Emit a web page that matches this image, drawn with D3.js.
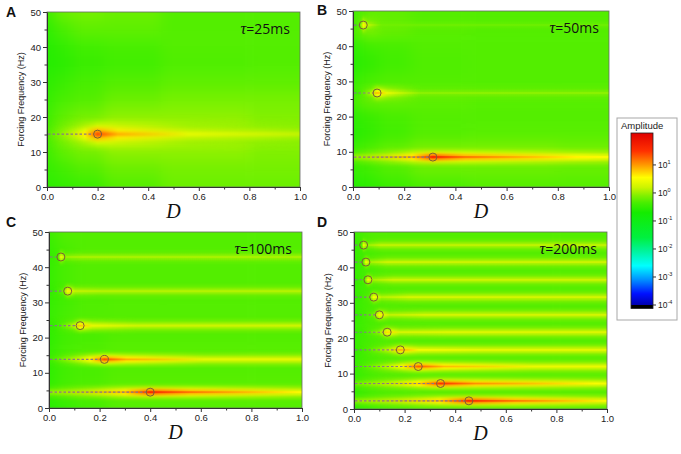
<!DOCTYPE html>
<html>
<head>
<meta charset="utf-8">
<script src="https://cdn.jsdelivr.net/npm/d3@7"></script>
<style>
  body { margin: 0; background: #fff; }
  svg { font-family: Arial, "Liberation Sans", sans-serif; }
</style>
</head>
<body>
<svg id="fig" width="681" height="454"></svg>
<script>
(function() {
  // ---- data ----
  var panelLetters = ['A', 'B', 'C', 'D']
  var tauLabels = ['25ms', '50ms', '100ms', '200ms']
  var dTicks = [0, 0.2, 0.4, 0.6, 0.8, 1.0]
  var dMinor = [0.1, 0.3, 0.5, 0.7, 0.9]
  var fTicks = [0, 10, 20, 30, 40, 50]
  var fMinor = [5, 15, 25, 35, 45]
  var ampTicks = [1, 0, -1, -2, -3, -4]   // log10 amplitude labelled on the colour bar

  // colour map, log10(amplitude) -> colour
  var levelStops = [2.2, 1.5, 1.0, 0.55, 0.2, -0.1, -0.35, -0.7, -1.6, -2.1, -2.6, -3.1, -3.6, -4.0]
  var levelColors = ['#e00000', '#ff3000', '#ff9900', '#ffff00', '#ccf400', '#80f000', '#48ee00',
                     '#14ec00', '#00f040', '#00f4a0', '#00ffff', '#0090ff', '#0010ff', '#0000b0']

  // resonance peaks (circles): forcing frequency (Hz), D at circle, log10 amplitude at peak and at D=1
  var peakFreqA = [15.1]
  var peakDA = [0.20]
  var peakLevelA = [1.35]
  var tailLevelA = [0.15]

  var peakFreqB = [46.0, 26.7, 8.5]
  var peakDB = [0.04, 0.094, 0.312]
  var peakLevelB = [0.6, 0.8, 1.6]
  var tailLevelB = [-0.15, -0.05, 0.5]

  var peakFreqC = [42.9, 33.2, 23.4, 13.8, 4.5]
  var peakDC = [0.047, 0.074, 0.123, 0.219, 0.40]
  var peakLevelC = [0.45, 0.6, 0.8, 1.35, 1.6]
  var tailLevelC = [0.05, 0.1, 0.2, 0.35, 0.5]

  var peakFreqD = [46.3, 41.5, 36.5, 31.6, 26.6, 21.7, 16.7, 12.0, 7.2, 2.3]
  var peakDD = [0.038, 0.047, 0.055, 0.078, 0.100, 0.131, 0.183, 0.254, 0.342, 0.454]
  var peakLevelD = [0.45, 0.5, 0.5, 0.55, 0.6, 0.7, 0.9, 1.3, 1.5, 1.6]
  var tailLevelD = [0.15, 0.2, 0.2, 0.25, 0.25, 0.3, 0.35, 0.4, 0.45, 0.5]

  // coarse background field, log10 amplitude; rows = bgFreq, columns = bgD
  var bgFreq = [50, 45, 40, 35, 30, 25, 20, 15, 10, 5, 0]
  var bgD = [0, 0.05, 0.15, 0.3, 0.6, 1.0]
  var bgA = [
    [-0.45, -0.2, -0.15, -0.2, -0.3, -0.3],
    [-0.55, -0.35, -0.25, -0.25, -0.3, -0.3],
    [-0.6, -0.5, -0.4, -0.35, -0.3, -0.3],
    [-0.6, -0.55, -0.45, -0.4, -0.32, -0.3],
    [-0.55, -0.45, -0.35, -0.3, -0.25, -0.25],
    [-0.5, -0.35, -0.3, -0.2, -0.15, -0.15],
    [-0.45, -0.25, -0.15, -0.05, -0.05, -0.1],
    [-0.4, -0.15, -0.05, 0.15, 0.1, 0.0],
    [-0.45, -0.25, -0.15, -0.05, -0.05, -0.1],
    [-0.5, -0.4, -0.3, -0.2, -0.15, -0.15],
    [-0.55, -0.5, -0.45, -0.3, -0.2, -0.2]
  ]
  var bgB = [
    [-0.45, -0.25, -0.25, -0.3, -0.3, -0.3],
    [-0.35, -0.1, -0.2, -0.28, -0.3, -0.3],
    [-0.55, -0.4, -0.35, -0.3, -0.3, -0.3],
    [-0.6, -0.5, -0.4, -0.32, -0.3, -0.3],
    [-0.5, -0.35, -0.3, -0.3, -0.3, -0.3],
    [-0.4, -0.2, -0.2, -0.25, -0.28, -0.28],
    [-0.55, -0.45, -0.35, -0.3, -0.3, -0.3],
    [-0.6, -0.5, -0.4, -0.3, -0.28, -0.28],
    [-0.45, -0.3, -0.2, -0.1, -0.1, -0.15],
    [-0.5, -0.4, -0.3, -0.2, -0.2, -0.22],
    [-0.6, -0.55, -0.45, -0.35, -0.3, -0.3]
  ]
  var bgC = [
    [-0.45, -0.3, -0.3, -0.3, -0.3, -0.3],
    [-0.5, -0.35, -0.3, -0.3, -0.3, -0.3],
    [-0.5, -0.35, -0.3, -0.3, -0.3, -0.3],
    [-0.5, -0.35, -0.3, -0.3, -0.3, -0.3],
    [-0.5, -0.4, -0.32, -0.3, -0.3, -0.3],
    [-0.5, -0.35, -0.3, -0.3, -0.3, -0.3],
    [-0.55, -0.4, -0.35, -0.3, -0.3, -0.3],
    [-0.5, -0.35, -0.3, -0.28, -0.28, -0.28],
    [-0.55, -0.4, -0.35, -0.3, -0.3, -0.3],
    [-0.5, -0.35, -0.3, -0.25, -0.25, -0.25],
    [-0.6, -0.5, -0.4, -0.3, -0.3, -0.3]
  ]
  var bgDD = [
    [-0.45, -0.3, -0.3, -0.3, -0.3, -0.3],
    [-0.5, -0.35, -0.3, -0.3, -0.3, -0.3],
    [-0.5, -0.35, -0.3, -0.3, -0.3, -0.3],
    [-0.5, -0.35, -0.3, -0.3, -0.3, -0.3],
    [-0.5, -0.35, -0.3, -0.3, -0.3, -0.3],
    [-0.5, -0.35, -0.3, -0.3, -0.3, -0.3],
    [-0.5, -0.35, -0.3, -0.3, -0.3, -0.3],
    [-0.5, -0.35, -0.3, -0.3, -0.3, -0.3],
    [-0.5, -0.35, -0.3, -0.28, -0.28, -0.28],
    [-0.5, -0.35, -0.3, -0.28, -0.28, -0.28],
    [-0.55, -0.45, -0.35, -0.3, -0.3, -0.3]
  ]

  // ---- layout ----
  var boxes = [
    {l: 47, r: 300, t: 12, b: 187, lx: 6, ly: 17, k: 2.0},
    {l: 353, r: 609, t: 11, b: 187, lx: 317, ly: 15, k: 1.2},
    {l: 49, r: 302, t: 232, b: 408, lx: 6, ly: 227, k: 1.05},
    {l: 354, r: 607, t: 232, b: 409, lx: 317, ly: 227, k: 0.95}
  ]
  // band cross-section: each layer sits at a fraction of the way from background to core level
  var layers = [
    {h: 10, blur: 2.2, frac: 0.5},
    {h: 5, blur: 1.0, frac: 0.8},
    {h: 1.8, blur: 0.5, frac: 1}
  ]
  var baseLevel = -0.3

  var panels = [
    {freq: peakFreqA, d: peakDA, peak: peakLevelA, tail: tailLevelA, bg: bgA},
    {freq: peakFreqB, d: peakDB, peak: peakLevelB, tail: tailLevelB, bg: bgB},
    {freq: peakFreqC, d: peakDC, peak: peakLevelC, tail: tailLevelC, bg: bgC},
    {freq: peakFreqD, d: peakDD, peak: peakLevelD, tail: tailLevelD, bg: bgDD}
  ]

  var color = d3.scaleLinear().domain(levelStops).range(levelColors).clamp(true)
  var opac = d3.scaleLinear().domain([-0.3, 0.0]).range([0, 1]).clamp(true)

  var svg = d3.select('#fig')
  var defs = svg.append('defs')

  function profile(pD, peak, tail) {
    var pts = [[0, peak - 1.6], [0.75 * pD, peak - 0.7], [pD, peak],
               [1.4 * pD, peak - 0.45], [2.8 * pD, Math.max(peak - 1.0, tail)]]
    pts = pts.filter(function(p) { return p[0] < 1 })
    pts.push([1, tail])
    return pts
  }

  panels.forEach(function(p, pi) {
    var box = boxes[pi]
    var w = box.r - box.l
    var h = box.b - box.t
    var x = d3.scaleLinear().domain([0, 1]).range([0, w])
    var y = d3.scaleLinear().domain([0, 50]).range([h, 0])

    var g = svg.append('g').attr('transform', 'translate(' + box.l + ',' + box.t + ')')

    defs.append('clipPath').attr('id', 'clip' + pi)
      .append('rect').attr('width', w).attr('height', h)

    // background field, blurred
    defs.append('filter').attr('id', 'bgblur' + pi)
      .attr('filterUnits', 'userSpaceOnUse')
      .attr('color-interpolation-filters', 'sRGB')
      .attr('x', -40).attr('y', -40).attr('width', w + 80).attr('height', h + 80)
      .append('feGaussianBlur').attr('stdDeviation', 7)

    var xs = bgD.map(x)
    var ys = bgFreq.map(y)
    var cells = []
    p.bg.forEach(function(row, i) {
      row.forEach(function(v, j) {
        var x0 = j === 0 ? -30 : (xs[j - 1] + xs[j]) / 2
        var x1 = j === xs.length - 1 ? w + 30 : (xs[j] + xs[j + 1]) / 2
        var y0 = i === 0 ? -30 : (ys[i - 1] + ys[i]) / 2
        var y1 = i === ys.length - 1 ? h + 30 : (ys[i] + ys[i + 1]) / 2
        cells.push({x0: x0, x1: x1, y0: y0, y1: y1, v: v})
      })
    })

    var field = g.append('g').attr('clip-path', 'url(#clip' + pi + ')')
    field.append('g')
      .attr('filter', 'url(#bgblur' + pi + ')')
      .selectAll('rect')
      .data(cells)
      .enter().append('rect')
      .attr('x', d => d.x0)
      .attr('y', d => d.y0)
      .attr('width', d => d.x1 - d.x0 + 0.5)
      .attr('height', d => d.y1 - d.y0 + 0.5)
      .attr('fill', d => color(d.v))

    // resonance bands
    layers.forEach(function(L, li) {
      defs.append('filter').attr('id', 'bandblur' + pi + '_' + li)
        .attr('filterUnits', 'userSpaceOnUse')
        .attr('color-interpolation-filters', 'sRGB')
        .attr('x', -20).attr('y', -20).attr('width', w + 40).attr('height', h + 40)
        .append('feGaussianBlur').attr('stdDeviation', '0 ' + (L.blur * box.k))
    })

    var bands = field.append('g')
    p.freq.forEach(function(f, bi) {
      var prof = profile(p.d[bi], p.peak[bi], p.tail[bi])
      layers.forEach(function(L, li) {
        var gid = 'grad' + pi + '_' + bi + '_' + li
        var grad = defs.append('linearGradient').attr('id', gid)
          .attr('gradientUnits', 'userSpaceOnUse')
          .attr('x1', 0).attr('x2', w).attr('y1', 0).attr('y2', 0)
        prof.forEach(function(pt) {
          var lv = baseLevel + L.frac * (pt[1] - baseLevel)
          grad.append('stop')
            .attr('offset', pt[0])
            .attr('stop-color', color(lv))
            .attr('stop-opacity', opac(lv))
        })
        var hh = L.h * box.k
        bands.append('rect')
          .attr('x', 0)
          .attr('width', w)
          .attr('y', y(f) - hh / 2)
          .attr('height', hh)
          .attr('fill', 'url(#' + gid + ')')
          .attr('filter', 'url(#bandblur' + pi + '_' + li + ')')
      })
    })

    // dashed guides and circles at the peaks
    var marks = g.append('g')
    marks.selectAll('line')
      .data(p.freq)
      .enter().append('line')
      .attr('x1', x(0) + 1)
      .attr('x2', (f, i) => x(p.d[i]) - 4)
      .attr('y1', f => y(f))
      .attr('y2', f => y(f))
      .attr('stroke', '#857a88')
      .attr('stroke-width', 1.1)
      .attr('stroke-dasharray', '2.5,2')
    marks.selectAll('circle')
      .data(p.freq)
      .enter().append('circle')
      .attr('cx', (f, i) => x(p.d[i]))
      .attr('cy', f => y(f))
      .attr('r', 4)
      .attr('fill', 'none')
      .attr('stroke', '#7a6038')
      .attr('stroke-width', 1)

    // frame
    g.append('rect').attr('width', w).attr('height', h)
      .attr('fill', 'none').attr('stroke', '#666').attr('stroke-width', 0.8)

    // axes
    g.append('g')
      .attr('class', 'axis axis-x')
      .attr('transform', 'translate(0,' + h + ')')
      .call(d3.axisBottom(x).tickValues(dTicks).tickFormat(d3.format('.1f')).tickSize(4).tickSizeOuter(0).tickPadding(2))
    g.append('g')
      .attr('transform', 'translate(0,' + h + ')')
      .call(d3.axisBottom(x).tickValues(dMinor).tickFormat('').tickSize(2.5).tickSizeOuter(0))
      .select('.domain').remove()
    g.append('g')
      .attr('class', 'axis axis-y')
      .call(d3.axisLeft(y).tickValues(fTicks).tickSize(4).tickSizeOuter(0).tickPadding(2))
    g.append('g')
      .call(d3.axisLeft(y).tickValues(fMinor).tickFormat('').tickSize(2.5).tickSizeOuter(0))
      .select('.domain').remove()

    g.selectAll('.tick line').attr('stroke', '#333')
    g.selectAll('.domain').attr('stroke', '#333')
    g.selectAll('.axis text')
      .attr('font-size', 9.5)
      .attr('font-family', 'Arial, "Liberation Sans", sans-serif')
      .attr('fill', '#222')

    // axis titles
    g.append('text')
      .attr('transform', 'translate(-26,' + (h / 2) + ') rotate(-90)')
      .attr('text-anchor', 'middle')
      .attr('dy', '0.35em')
      .attr('font-size', 9)
      .attr('fill', '#222')
      .text('Forcing Frequency (Hz)')
    g.append('text')
      .attr('x', w / 2)
      .attr('y', h + 31)
      .attr('text-anchor', 'middle')
      .attr('font-family', '"Liberation Serif", "Times New Roman", serif')
      .attr('font-style', 'italic')
      .attr('font-size', 20)
      .attr('fill', '#111')
      .text('D')

    // tau label
    var tau = g.append('text')
      .attr('x', w - 10)
      .attr('y', 22)
      .attr('text-anchor', 'end')
      .attr('fill', '#111')
    tau.append('tspan')
      .attr('font-family', '"Liberation Serif", "Times New Roman", serif')
      .attr('font-style', 'italic')
      .attr('font-size', 16)
      .text('\u03C4')
    tau.append('tspan')
      .attr('font-family', '"Open Sans", Arial, sans-serif')
      .attr('font-size', 14)
      .text('=' + tauLabels[pi])

    // panel letter
    svg.append('text')
      .attr('x', box.lx)
      .attr('y', box.ly)
      .attr('font-size', 14)
      .attr('font-weight', 'bold')
      .attr('fill', '#111')
      .text(panelLetters[pi])
  })

  // ---- colour bar legend ----
  var legend = svg.append('g')
  legend.append('rect')
    .attr('x', 617).attr('y', 118).attr('width', 60).attr('height', 202)
    .attr('fill', '#fff').attr('stroke', '#a8a8a8').attr('stroke-width', 1)
  legend.append('text')
    .attr('x', 621).attr('y', 129)
    .attr('font-size', 9.5).attr('fill', '#222')
    .text('Amplitude')

  var barScale = d3.scaleLinear().domain([2.14, -4]).range([133, 305])
  var barGrad = defs.append('linearGradient').attr('id', 'bargrad')
    .attr('x1', 0).attr('x2', 0).attr('y1', 0).attr('y2', 1)
  levelStops.forEach(function(lv) {
    barGrad.append('stop')
      .attr('offset', Math.max(0, (2.14 - lv) / 6.14))
      .attr('stop-color', color(lv))
  })
  legend.append('rect')
    .attr('x', 631).attr('y', barScale(2.14))
    .attr('width', 22).attr('height', barScale(-4) - barScale(2.14))
    .attr('fill', 'url(#bargrad)')
  legend.append('rect')
    .attr('x', 631).attr('y', barScale(-4))
    .attr('width', 22).attr('height', 3.5)
    .attr('fill', '#000')
  legend.append('rect')
    .attr('x', 631).attr('y', barScale(2.14))
    .attr('width', 22).attr('height', barScale(-4) + 3.5 - barScale(2.14))
    .attr('fill', 'none').attr('stroke', '#222').attr('stroke-width', 0.8)

  var ticks = legend.selectAll('.ctick')
    .data(ampTicks)
    .enter().append('g')
    .attr('class', 'ctick')
    .attr('transform', d => 'translate(653,' + barScale(d) + ')')
  ticks.append('line').attr('x1', 0).attr('x2', 3).attr('stroke', '#333')
  var lbl = ticks.append('text')
    .attr('x', 5).attr('dy', '0.35em')
    .attr('font-size', 8.5).attr('fill', '#222')
  lbl.append('tspan').text('10')
  lbl.append('tspan').attr('font-size', 5.5).attr('dy', -4).text(d => d)
})()
</script>
</body>
</html>
